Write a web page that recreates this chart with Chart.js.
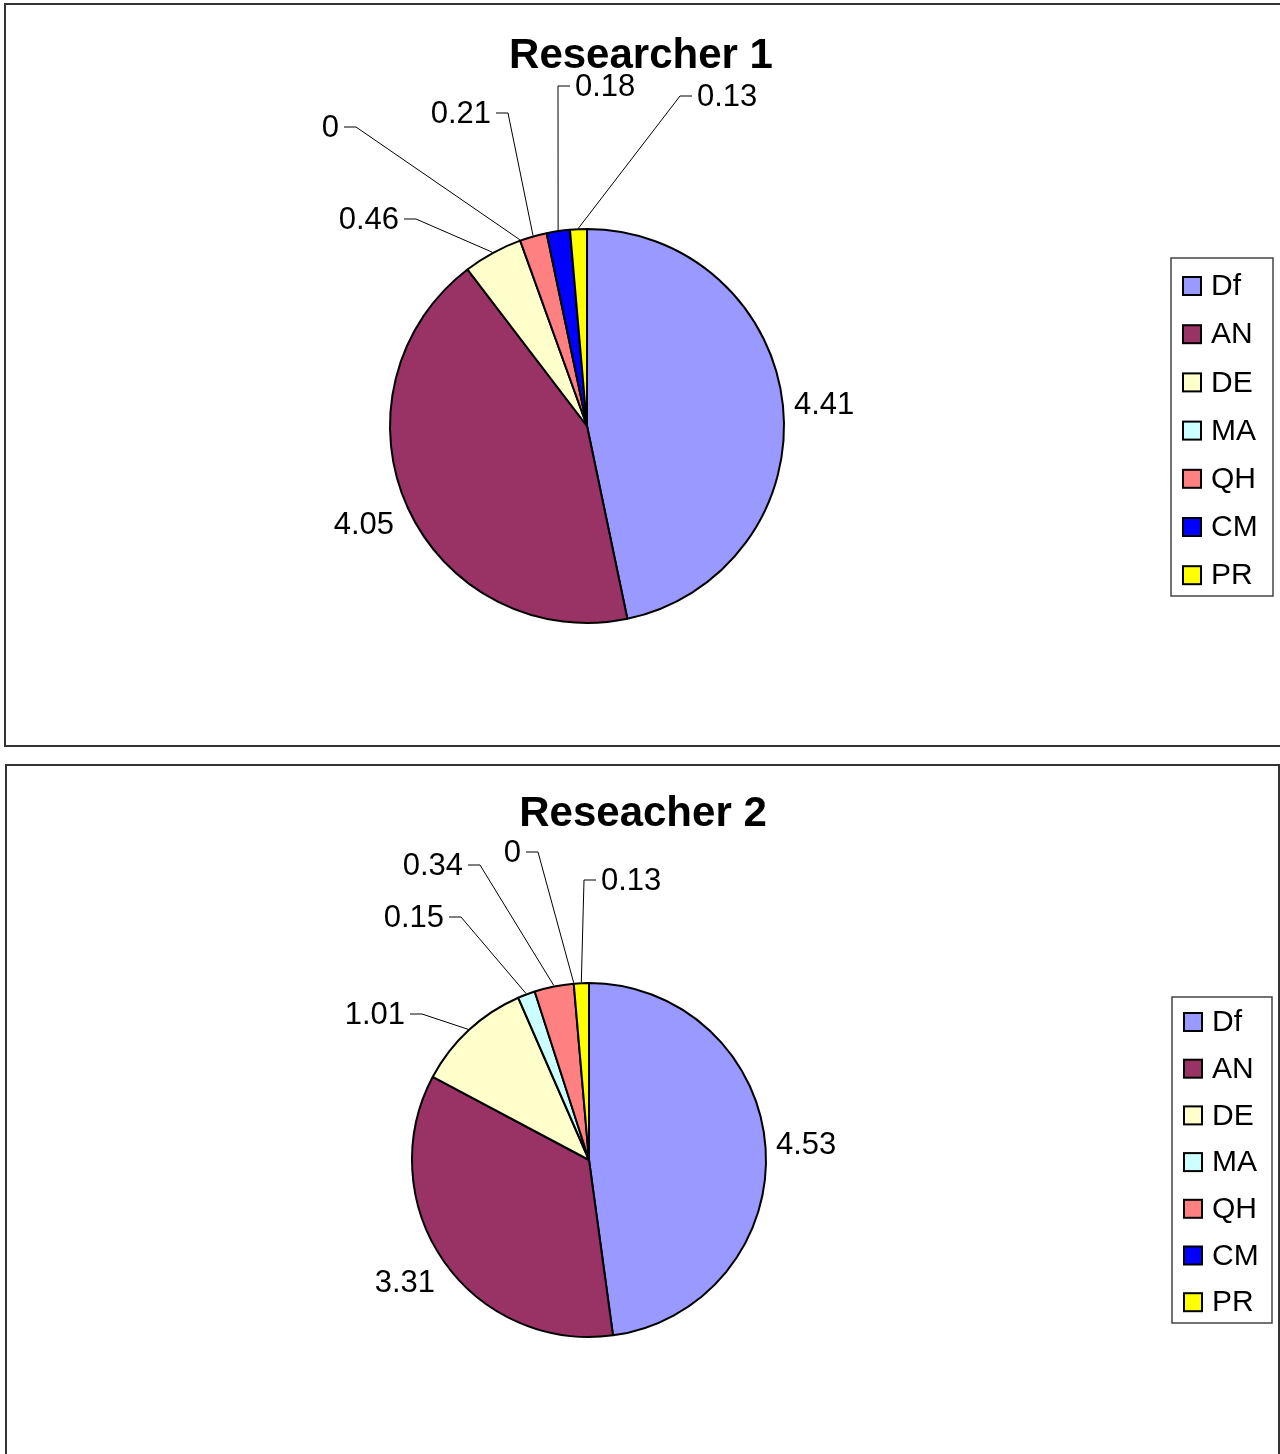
<!DOCTYPE html>
<html><head><meta charset="utf-8">
<script src="https://cdn.jsdelivr.net/npm/chart.js@4.4.1/dist/chart.umd.min.js"></script>
<style>
html,body{margin:0;padding:0;background:#fff;overflow:hidden;width:1280px;height:1454px;}
.box{position:absolute;border:2px solid #333;box-sizing:border-box;}
canvas{position:absolute;}
</style></head><body>
<div class="box" style="left:4px;top:3px;width:1300px;height:744px;"></div>
<div class="box" style="left:5px;top:764px;width:1275px;height:720px;"></div>
<canvas id="c1" width="1280" height="755" style="left:0;top:0;width:1280px;height:755px"></canvas>
<canvas id="c2" width="1280" height="699" style="left:0;top:755px;width:1280px;height:699px"></canvas>
<script>
// ---- data ----
const categories = ['Df', 'AN', 'DE', 'MA', 'QH', 'CM', 'PR'];
const sliceColors = ['#9999FF', '#993366', '#FFFFCC', '#CCFFFF', '#FF8080', '#0000FF', '#FFFF00'];
const chartTitles = ['Researcher 1', 'Reseacher 2'];
const researcher1Values = [4.41, 4.05, 0.46, 0, 0.21, 0.18, 0.13];
const researcher2Values = [4.53, 3.31, 1.01, 0.15, 0.34, 0, 0.13];

// ---- layout (label offsets from pie centre: dx, dy, align, leader) ----
const layouts = [
  {
    canvas: 'c1', values: researcher1Values, title: chartTitles[0],
    titleX: 641, titleY: 56, radius: 197,
    padding: {left: 337, right: 443, top: 176, bottom: 79},
    labels: [
      [207, -21, 'left', false],
      [-193, 99, 'right', false],
      [-188, -206, 'right', true],
      [-248, -298, 'right', true],
      [-96, -312, 'right', true],
      [-12, -339, 'left', true],
      [110, -329, 'left', true]
    ],
    legend: {left: 1171, top: 258, right: 1273, bottom: 596, first: 286, step: 48.2}
  },
  {
    canvas: 'c2', values: researcher2Values, title: chartTitles[1],
    titleX: 643, titleY: 59, radius: 177,
    padding: {left: 339, right: 441, top: 155, bottom: 44},
    labels: [
      [187, -15, 'left', false],
      [-154, 123, 'right', false],
      [-184, -145, 'right', true],
      [-145, -242, 'right', true],
      [-126, -294, 'right', true],
      [-68, -307, 'right', true],
      [12, -279, 'left', true]
    ],
    legend: {left: 1172, top: 997 - 755, right: 1272, bottom: 1323 - 755, first: 1022 - 755, step: 46.7}
  }
];

const FONT = '"Liberation Sans", Arial, Helvetica, sans-serif';

function makePlugin(L) {
  return {
    id: 'excelPie_' + L.canvas,
    afterDraw(chart) {
      const ctx = chart.ctx;
      ctx.save();
      // title
      ctx.fillStyle = '#000';
      ctx.font = 'bold 42px ' + FONT;
      ctx.textAlign = 'center';
      ctx.textBaseline = 'middle';
      ctx.fillText(L.title, L.titleX, L.titleY);

      // data labels
      const meta = chart.getDatasetMeta(0);
      const vals = chart.data.datasets[0].data;
      ctx.font = '31px ' + FONT;
      meta.data.forEach((arc, i) => {
        const p = arc.getProps(['x', 'y', 'startAngle', 'endAngle', 'outerRadius'], true);
        const mid = (p.startAngle + p.endAngle) / 2;
        const ax = p.x + Math.cos(mid) * (p.outerRadius + 1);
        const ay = p.y + Math.sin(mid) * (p.outerRadius + 1);
        const cfg = L.labels[i];
        const tx = p.x + cfg[0], ty = p.y + cfg[1];
        ctx.textAlign = cfg[2];
        ctx.textBaseline = 'middle';
        ctx.fillStyle = '#000';
        ctx.fillText(String(vals[i]), tx, ty);
        if (cfg[3]) {
          const s = cfg[2] === 'right' ? 1 : -1;
          ctx.beginPath();
          ctx.strokeStyle = '#000';
          ctx.lineWidth = 1;
          ctx.moveTo(tx + s * 5, ty - 1);
          ctx.lineTo(tx + s * 17, ty - 1);
          ctx.lineTo(ax, ay);
          ctx.stroke();
        }
      });

      // legend
      const lg = L.legend;
      ctx.strokeStyle = '#444';
      ctx.lineWidth = 1.5;
      ctx.strokeRect(lg.left, lg.top, lg.right - lg.left, lg.bottom - lg.top);
      ctx.font = '30px ' + FONT;
      ctx.textAlign = 'left';
      ctx.textBaseline = 'middle';
      chart.data.labels.forEach((lab, i) => {
        const cy = lg.first + i * lg.step;
        ctx.fillStyle = chart.data.datasets[0].backgroundColor[i];
        ctx.fillRect(lg.left + 12, cy - 9, 18, 18);
        ctx.strokeStyle = '#000';
        ctx.lineWidth = 2;
        ctx.strokeRect(lg.left + 12, cy - 9, 18, 18);
        ctx.fillStyle = '#000';
        ctx.fillText(lab, lg.left + 40, cy + 1);
      });
      ctx.restore();
    }
  };
}

layouts.forEach(L => {
  new Chart(document.getElementById(L.canvas), {
    type: 'pie',
    data: {
      labels: categories,
      datasets: [{
        data: L.values,
        backgroundColor: sliceColors,
        borderColor: '#000',
        borderWidth: 2,
        radius: L.radius
      }]
    },
    options: {
      responsive: false,
      animation: false,
      devicePixelRatio: 1,
      events: [],
      layout: {padding: L.padding},
      plugins: {legend: {display: false}, tooltip: {enabled: false}, title: {display: false}}
    },
    plugins: [makePlugin(L)]
  });
});
</script>
</body></html>
